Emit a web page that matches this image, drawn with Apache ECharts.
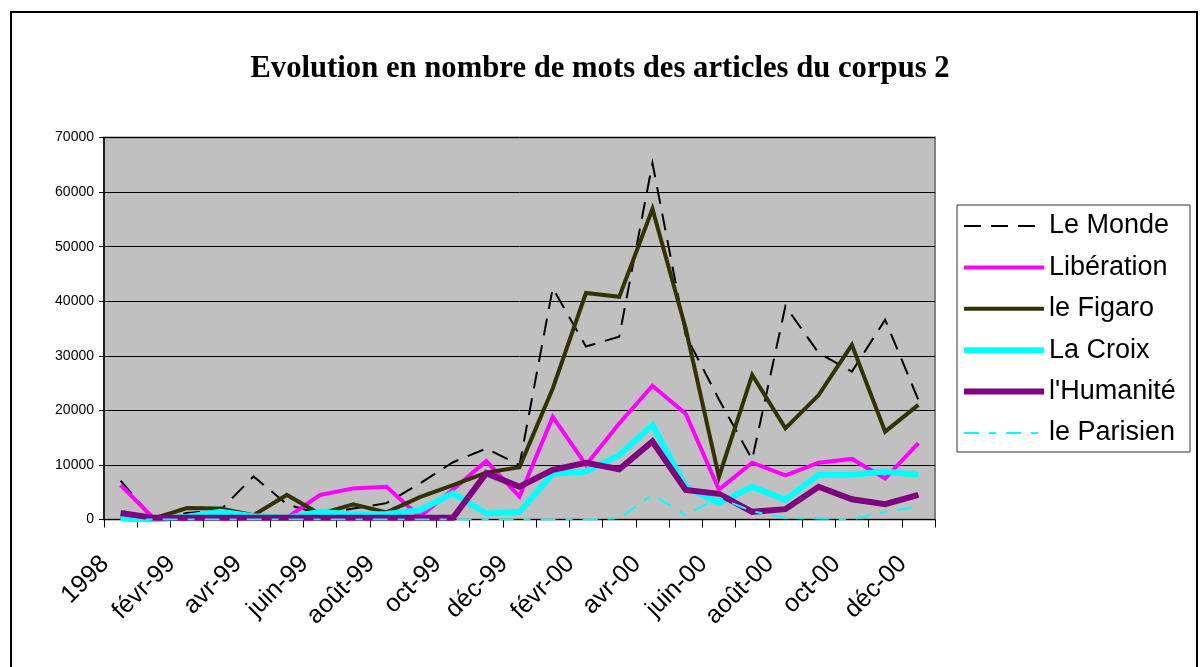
<!DOCTYPE html>
<html><head><meta charset="utf-8">
<script src="https://cdn.jsdelivr.net/npm/echarts@6/dist/echarts.min.js"></script>
<style>html,body{margin:0;padding:0;background:#fff}#c{width:1200px;height:667px}</style>
</head><body><div id="c"></div>
<script>
const categories = ["1998","janv-99","févr-99","mars-99","avr-99","mai-99","juin-99","juil-99","août-99","sept-99","oct-99","nov-99","déc-99","janv-00","févr-00","mars-00","avr-00","mai-00","juin-00","juil-00","août-00","sept-00","oct-00","nov-00","déc-00"];
const leMonde     = [7100, 0, 1200, 1700, 7900, 2800, 1000, 2000, 3000, 6600, 10500, 13000, 10000, 42400, 31700, 33500, 65300, 33800, 22000, 11000, 39100, 30500, 27100, 36600, 21900];
const liberation  = [6300, 200, 200, 300, 500, 300, 4500, 5700, 6000, 500, 5500, 10700, 4200, 18800, 10000, 17600, 24500, 19400, 5500, 10400, 8100, 10400, 11100, 7500, 14000];
const leFigaro    = [500, 200, 2100, 2000, 800, 4500, 1000, 2800, 1300, 4100, 6300, 8600, 9600, 24000, 41500, 40800, 56900, 35000, 7800, 26500, 16700, 22800, 32000, 16100, 21000];
const laCroix     = [200, 0, 500, 1400, 600, 300, 1400, 900, 1000, 1700, 4800, 1100, 1400, 8400, 8800, 11800, 17300, 6000, 3000, 6000, 3600, 8200, 8200, 8800, 8200];
const lHumanite   = [1200, 300, 300, 300, 300, 300, 300, 300, 300, 300, 300, 8500, 6000, 9100, 10400, 9200, 14300, 5400, 4700, 1400, 1900, 6000, 3700, 2800, 4500];
const leParisien  = [0, 0, 0, 0, 0, 0, 0, 0, 0, 0, 0, 0, 0, 0, 0, 200, 4500, 800, 4000, 1500, 300, 200, 0, 1400, 2400];
const yTicks = {min: 0, max: 70000, interval: 10000};

const chart = echarts.init(document.getElementById('c'), null, {renderer: 'canvas'});
const mk = (name, data, color, width, type) => ({
  name, type: 'line', data, symbol: 'none', showSymbol: false,
  lineStyle: {color, width, type: type || 'solid', cap: 'butt', join: 'miter'},
  itemStyle: {color},
  emphasis: {disabled: true}
});
const leg = (name, width) => ({name, lineStyle: {width}});
chart.setOption({
  animation: false,
  backgroundColor: '#fff',
  title: {
    text: 'Evolution en nombre de mots des articles du corpus 2',
    left: 'center', top: 49,
    textStyle: {fontFamily: 'Liberation Serif', fontWeight: 'bold', fontSize: 30.7, color: '#000'}
  },
  graphic: [
    {type: 'rect', z: -10, shape: {x: 11, y: 12, width: 1186, height: 700}, style: {fill: 'none', stroke: '#000', lineWidth: 2}},
    {type: 'rect', z: 0, shape: {x: 957, y: 205, width: 233, height: 247}, style: {fill: '#fff', stroke: '#333', lineWidth: 1}}
  ],
  legend: {
    orient: 'vertical', left: 961, top: 211, padding: 0, z: 10,
    itemWidth: 80, itemHeight: 14, itemGap: 11.4,
    itemStyle: {opacity: 0},
    textStyle: {fontFamily: 'Liberation Sans', fontSize: 27, color: '#000', lineHeight: 30},
    data: [leg('Le Monde', 2), leg('Libération', 4), leg('le Figaro', 4), leg('La Croix', 6), leg("l'Humanité", 6), leg('le Parisien', 2)]
  },
  grid: {left: 104, right: 265, top: 137.5, bottom: 147.5, show: true, backgroundColor: '#C0C0C0', borderColor: '#808080', borderWidth: 2},
  xAxis: {
    type: 'category', data: categories, boundaryGap: true,
    axisLine: {lineStyle: {color: '#000', width: 1}},
    axisTick: {show: true, interval: 0, length: 8, lineStyle: {color: '#000'}},
    axisLabel: {interval: 1, rotate: 45, margin: 25, padding: [0, 22, 0, 0], fontFamily: 'Liberation Sans', fontSize: 25, color: '#000'},
    splitLine: {show: false}
  },
  yAxis: {
    type: 'value', min: yTicks.min, max: yTicks.max, interval: yTicks.interval,
    axisLine: {show: true, lineStyle: {color: '#000', width: 1.5}},
    axisTick: {show: true, length: 5, lineStyle: {color: '#000'}},
    axisLabel: {margin: 10, fontFamily: 'Liberation Sans', fontSize: 14, color: '#000', formatter: v => String(v)},
    splitLine: {show: true, lineStyle: {color: '#000', width: 1}}
  },
  series: [
    mk('Le Monde', leMonde, '#000000', 2, [17, 10]),
    mk('Libération', liberation, '#FF00FF', 4),
    mk('le Figaro', leFigaro, '#333300', 4),
    mk('La Croix', laCroix, '#00FFFF', 6),
    mk("l'Humanité", lHumanite, '#800080', 6),
    mk('le Parisien', leParisien, '#00FFFF', 2, [15, 10, 7, 10])
  ]
});
</script></body></html>
